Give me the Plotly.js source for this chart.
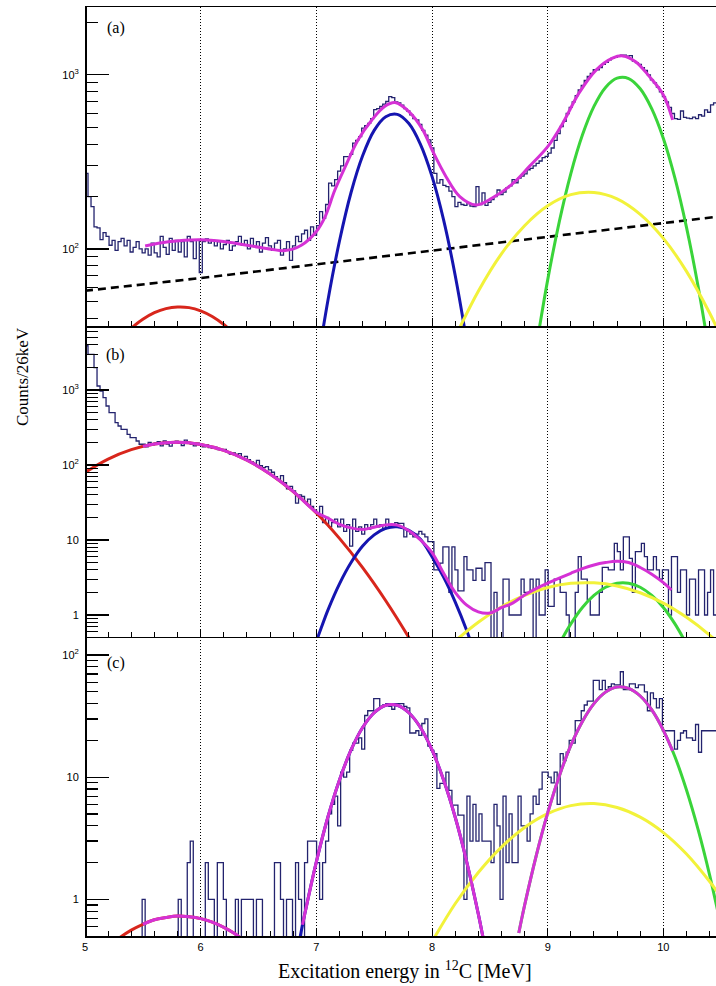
<!DOCTYPE html>
<html>
<head>
<meta charset="utf-8">
<script src="https://cdn.plot.ly/plotly-3.0.1.min.js"></script>
<style>html,body{margin:0;padding:0;background:#fff;overflow:hidden}</style>
</head>
<body>
<div id="chart" style="width:716px;height:986px"></div>
<script>
// ---------------- DATA ----------------
const binStart = 5.0;      // MeV
const binWidth = 0.026;    // MeV (26 keV)

// Panel (a) histogram counts per 26 keV bin
const histA = [
 272,200,175,134,132,113,124,118,105,112,
 98,110,115,104,112,96,102,110,100,95,
 100,92,108,95,90,118,102,93,115,98,
 112,96,110,90,118,110,88,113,73,110,
 114,108,112,104,110,100,106,112,98,104,
 110,118,105,112,100,115,103,110,96,108,
 116,104,98,108,112,92,100,110,86,104,
 118,110,122,128,112,134,120,136,164,150,
 180,239,230,250,280,300,339,339,350,405,
 420,442,494,510,527,560,631,640,658,680,
 703,750,740,700,690,670,640,620,590,560,
 551,520,480,450,423,380,272,239,250,232,
 228,215,200,175,185,180,178,182,176,175,
 228,180,210,178,185,192,200,218,205,212,
 225,230,250,240,255,262,270,285,290,300,
 310,320,335,340,355,380,420,460,505,540,
 600,650,700,760,820,870,930,980,1020,1070,
 1070,1100,1150,1180,1220,1250,1260,1290,1300,1300,
 1280,1290,1200,1175,1150,1100,1060,1000,935,900,
 850,800,750,700,650,600,560,555,620,570,
 565,560,572,560,590,580,630,610,673,690
];
// Panel (b) histogram
const histB = [
 3890,2990,2990,1990,1130,970,790,612,499,499,
 367,331,299,299,256,231,231,209,189,189,
 175,200,185,195,205,180,210,190,178,200,
 208,195,182,215,200,190,180,196,188,175,
 185,170,168,172,160,158,162,150,140,145,
 138,142,125,130,118,110,105,115,98,92,
 95,86,80,70,64,72,58,48,52,45,
 31,40,38,32,35,28,25,23,28,17,
 20,15,17,19,15,19,13,16,8.3,19,
 13,15,12,16,14,16,19,15,16,14,
 19,15,16,17,16.7,16.7,11,13,12,11,
 12,13,12,11,9.5,9.5,4,4,4.9,8.1,
 8.1,2,8.1,4,2.1,2.1,6,4,4,2.9,
 4.2,4.2,2.9,5,5,0,2,0,0,3,
 3,1,1,1,1,3,2,2,3,0,
 3,1,1,4,1.3,1.3,3,3,2,2,
 1,0,0,2,6,3,3,1.6,1,1,
 1,2,4.3,4.3,4,4,9,7,4,11,
 11,5.7,2,7,7,9,6,4,4,6,
 4,3,4,4,1,6,6,2,4,4,
 1,3,3,1,4,4,1,2,4,1
];
// Panel (c) histogram
const histC = [
 0,0,0,0,0,0,0,0,0,0,
 0,0,0,0,0,0,0,0,0,1,
 0,0,0,0,0,0,0,0,0,0,
 0,1,0,0,2,3,0,0,0,0,
 2,1,1,0,2,2,1,0,0,0,
 1,0,1,1,1,1,0,1,1,0,
 0,0,0,2,2,1,0,1,1,0,
 2,1,0,2,3,3,3,2,1,2,
 3,5,6,7,4,11,10,11,16.6,19,
 19,21,17,32,35,35,44,44,38,39,
 40,38,36,40,40,40,38,37,23,23,
 24,22,27.5,30,18,16.6,15.6,8.1,8.9,8.9,
 11,7.8,5.9,5.9,4.9,4.9,1,7,3,6,
 3,5,3,3,3,2,6,4,1,7,
 2,5,2,2,7,4,4,3,5,7,
 6,8,11,11,10,9,11,6,15.6,13.7,
 16,20,19,29,29,35,39,42,42,62,
 62,52,62,52,55,58,57,57,73,52,
 52,58,58,54,57,57,50,35,49,44,
 37,44,24,24,24,24,17,20,23,24,
 21,21,20,27,16,24,24,24,24,24
];

// ---- Fit curves, panel (a) ----
const aBgX = [5.0, 6.0, 7.0, 8.0, 9.0, 10.0, 10.46];
const aBgY = [57.5, 68, 81.5, 98, 118, 141, 153];
const aRedX = [5.3,5.4,5.5,5.6,5.7,5.8,5.9,6.0,6.1,6.2,6.3];
const aRedY = [30.1,35.0,39.4,43.0,45.4,46.4,46.0,44.1,40.9,36.8,32.1];
const aBlueX = [6.95,7.0,7.1,7.2,7.3,7.4,7.5,7.6,7.7,7.8,7.9,8.0,8.1,8.2,8.3,8.4];
const aBlueY = [11.6,19.7,50.6,111,211,343,480,575,593,525,399,261,147,70.6,29.2,10.4];
const aGreenX = [8.9,9.0,9.1,9.2,9.3,9.4,9.5,9.6,9.7,9.8,9.9,10.0,10.1,10.2,10.3,10.4];
const aGreenY = [27,66.4,143,271,451,659,847,957,953,832,638,431,255,133,61,24.6];
const aYellowX = [8.2,8.4,8.6,8.8,9.0,9.2,9.4,9.6,9.8,10.0,10.2,10.4,10.5];
const aYellowY = [31.1,57.1,93.7,136,177,205,211,194,158,115,74.3,42.8,31.1];
const aMagX = [5.52,5.72,6.0,6.21,6.44,6.61,6.73,6.87,7.0,7.075,7.16,7.25,7.36,7.48,7.59,7.68,7.80,7.92,8.0,8.12,8.24,8.38,8.52,8.70,8.84,9.0,9.13,9.27,9.42,9.56,9.65,9.76,9.88,10.0,10.08];
const aMagY = [104,110,113,110,104,99.6,97.8,105,126,153,218,297,423,551,658,693,615,483,371,261,200,179,196,238,297,387,527,785,1069,1248,1285,1191,977,767,551];

// ---- Fit curves, panel (b) ----
const bRedX = [5.0,5.2,5.4,5.6,5.8,6.0,6.2,6.4,6.6,6.8,7.0,7.2,7.4,7.6,7.8,7.9];
const bRedY = [79.5,120,160,191,201,188,157,116,75.9,44.2,22.9,10.5,4.28,1.55,0.50,0.27];
const bBlueX = [6.95,7.0,7.1,7.2,7.3,7.4,7.5,7.6,7.7,7.8,7.9,8.0,8.1,8.2,8.3,8.4];
const bBlueY = [0.3,0.45,1.16,2.6,5.0,8.3,11.7,14.3,15.0,13.4,10.2,6.0,3.2,1.5,0.62,0.22];
const bYellowX = [8.2,8.4,8.6,8.8,9.0,9.2,9.4,9.6,9.8,10.0,10.2,10.4,10.5];
const bYellowY = [0.45,0.80,1.28,1.82,2.32,2.64,2.68,2.44,1.98,1.44,0.93,0.54,0.39];
const bGreenX = [9.1,9.2,9.3,9.4,9.5,9.6,9.7,9.8,9.9,10.0,10.1,10.2];
const bGreenY = [0.41,0.76,1.26,1.82,2.34,2.65,2.65,2.34,1.82,1.26,0.76,0.41];
const bMagX = [5.5,5.6,5.8,6.0,6.2,6.4,6.6,6.8,7.0,7.1,7.2,7.3,7.4,7.5,7.6,7.7,7.8,7.9,8.0,8.1,8.2,8.3,8.4,8.5,8.6,8.7,8.8,8.9,9.0,9.1,9.2,9.3,9.4,9.5,9.6,9.7,9.8,9.9,10.0,10.07];
const bMagY = [177,191,201,188,157,116,76,44.5,23.5,19.5,16.2,14.5,13.8,14.8,15.9,15.8,13.3,10,6.8,3.6,2.0,1.35,1.1,1.06,1.25,1.45,1.85,2.25,2.65,3.1,3.6,4.15,4.65,5.0,5.2,5.0,4.3,3.5,2.7,2.15];

// ---- Fit curves, panel (c) ----
const cRedX = [5.2,5.3,5.4,5.5,5.6,5.7,5.8,5.9,6.0,6.1,6.2,6.3,6.4];
const cRedY = [0.41,0.486,0.56,0.625,0.68,0.71,0.73,0.72,0.695,0.65,0.59,0.52,0.44];
const cBlueX = [6.85,6.9,7.0,7.1,7.2,7.3,7.4,7.5,7.6,7.7,7.8,7.9,8.0,8.1,8.2,8.3,8.4,8.45];
const cBlueY = [0.44,0.76,2.03,4.72,9.5,16.7,25.5,33.7,38.8,38.8,33.7,25.5,16.7,9.5,4.72,2.03,0.76,0.44];
const cGreenX = [8.75,8.8,8.9,9.0,9.1,9.2,9.3,9.4,9.5,9.6,9.7,9.8,9.9,10.0,10.1,10.2,10.3,10.4,10.5];
const cGreenY = [0.53,0.89,2.26,5.1,10.2,18.2,28.6,40.0,49.7,54.7,53.3,46.2,35.5,24.2,14.7,7.85,3.74,1.58,0.59];
const cYellowX = [8.0,8.2,8.4,8.6,8.8,9.0,9.2,9.4,9.6,9.8,10.0,10.2,10.4,10.5];
const cYellowY = [0.45,0.92,1.66,2.68,3.88,5.03,5.85,6.08,5.65,4.71,3.52,2.35,1.40,1.04];
const cMag1X = [5.5,5.6,5.7,5.8,5.9,6.0,6.1,6.2,6.3,6.4];
const cMag1Y = [0.625,0.68,0.71,0.73,0.72,0.695,0.65,0.59,0.52,0.44];
const cMag2X = [6.88,6.9,7.0,7.1,7.2,7.3,7.4,7.5,7.6,7.7,7.8,7.9,8.0,8.1,8.2,8.3,8.4,8.45];
const cMag2Y = [0.62,0.76,2.03,4.72,9.5,16.7,25.5,33.7,38.8,38.8,33.7,25.5,16.7,9.5,4.72,2.03,0.76,0.44];
const cMag3X = [8.75,8.8,8.9,9.0,9.1,9.2,9.3,9.4,9.5,9.6,9.7,9.8,9.9,10.0,10.08];
const cMag3Y = [0.53,0.89,2.26,5.1,10.2,18.2,28.6,40.0,49.7,54.7,53.3,46.2,35.5,24.2,16.4];

const xTickVals = [5,6,7,8,9,10];
const xTickText = ['5','6','7','8','9','10'];
const yTickValsA = [100,1000];
const yTickTextA = ['10<sup>2</sup>','10<sup>3</sup>'];
const yTickValsB = [1,10,100,1000];
const yTickTextB = ['1','10','10<sup>2</sup>','10<sup>3</sup>'];
const yTickValsC = [1,10,100];
const yTickTextC = ['1','10','10<sup>2</sup>'];

// ---------------- STYLE ----------------
const C = {
  hist:'#23236e', red:'#d8261c', blue:'#1515b0', green:'#3ad43a',
  yellow:'#f2f23a', mag:'#d531d5', black:'#000'
};
const nBins = histA.length;
const edges = [];
for (let k = 0; k <= nBins; k++) edges.push(+(binStart + k*binWidth).toFixed(4));

function hist(vals, xa, ya){
  const y = vals.map(v => v > 0 ? v : 1e-3);
  y.push(y[y.length-1]);
  return {type:'scatter', mode:'lines', x: edges, y: y, xaxis:xa, yaxis:ya,
    line:{shape:'hv', color:C.hist, width:1.3}, hoverinfo:'skip', showlegend:false};
}
function curve(xs, ys, color, xa, ya, opts){
  opts = opts || {};
  return {type:'scatter', mode:'lines', x: xs, y: ys, xaxis:xa, yaxis:ya,
    line:{shape: opts.shape || 'spline', smoothing:1, color:color, width: opts.width || 3, dash: opts.dash || 'solid'},
    hoverinfo:'skip', showlegend:false};
}

const traces = [
  hist(histA,'x','y'),
  curve(aBgX, aBgY, C.black, 'x','y', {shape:'linear', width:2.6, dash:'8px,5px'}),
  curve(aRedX, aRedY, C.red, 'x','y'),
  curve(aBlueX, aBlueY, C.blue, 'x','y'),
  curve(aGreenX, aGreenY, C.green, 'x','y'),
  curve(aYellowX, aYellowY, C.yellow, 'x','y'),
  curve(aMagX, aMagY, C.mag, 'x','y'),

  hist(histB,'x2','y2'),
  curve(bRedX, bRedY, C.red, 'x2','y2'),
  curve(bBlueX, bBlueY, C.blue, 'x2','y2'),
  curve(bGreenX, bGreenY, C.green, 'x2','y2'),
  curve(bYellowX, bYellowY, C.yellow, 'x2','y2'),
  curve(bMagX, bMagY, C.mag, 'x2','y2'),

  hist(histC,'x3','y3'),
  curve(cRedX, cRedY, C.red, 'x3','y3'),
  curve(cBlueX, cBlueY, C.blue, 'x3','y3'),
  curve(cGreenX, cGreenY, C.green, 'x3','y3'),
  curve(cYellowX, cYellowY, C.yellow, 'x3','y3'),
  curve(cMag1X, cMag1Y, C.mag, 'x3','y3'),
  curve(cMag2X, cMag2Y, C.mag, 'x3','y3'),
  curve(cMag3X, cMag3Y, C.mag, 'x3','y3')
];

const minorVals = [];
[0.1,1,10,100,1000].forEach(d => { for (let m = 2; m <= 9; m++) minorVals.push(+(d*m).toPrecision(3)); });

const sans = 'Liberation Sans, Arial, sans-serif';
const serif = 'Liberation Serif, Times New Roman, serif';
const xRange = [5, 10.455];

function xaxis(anchor, showLabels, mirror){
  return {
    anchor: anchor, range: xRange, type:'linear', fixedrange:true,
    showline:true, linecolor:'#000', linewidth:1.5, mirror: mirror || false,
    tickmode:'array', tickvals: xTickVals, ticktext: xTickText,
    ticks:'inside', ticklen:8, tickwidth:1, tickcolor:'#000',
    showticklabels: showLabels, tickfont:{family:sans, size:11, color:'#000'},
    showgrid:true, gridcolor:'#000', gridwidth:1, griddash:'1px,2px',
    minor:{dtick:0.2, tick0:5, ticks:'inside', ticklen:5, tickwidth:1, tickcolor:'#000', showgrid:false},
    zeroline:false
  };
}
function yaxis(domain, range, tv, tt){
  return {
    domain: domain, type:'log', range: range, fixedrange:true, anchor:'free', position:0,
    showline:true, linecolor:'#000', linewidth:1.5,
    tickmode:'array', tickvals: tv, ticktext: tt,
    ticks:'inside', ticklen:22, tickwidth:1.2, tickcolor:'#000',
    ticklabelstandoff: 4,
    tickfont:{family:sans, size:11, color:'#000'},
    minor:{tickmode:'array', tickvals: minorVals, ticks:'inside', ticklen:11, tickwidth:1.2, tickcolor:'#000', showgrid:false},
    showgrid:false, zeroline:false
  };
}

const layout = {
  width:716, height:986,
  margin:{l:85, r:0, t:7, b:50},
  paper_bgcolor:'#fff', plot_bgcolor:'#fff',
  showlegend:false,
  xaxis: xaxis('y', false, true),
  xaxis2: xaxis('y2', false),
  xaxis3: xaxis('y3', true),
  yaxis: yaxis([0.6566, 1], [1.557, 3.39], yTickValsA, yTickTextA),
  yaxis2: yaxis([0.3219, 0.6566], [-0.293, 3.853], yTickValsB, yTickTextB),
  yaxis3: yaxis([0, 0.3219], [-0.30, 2.148], yTickValsC, yTickTextC),
  annotations:[
    {text:'(a)', xref:'paper', yref:'paper', x:0.049, y:0.9774, showarrow:false, xanchor:'center', yanchor:'middle', font:{family:serif, size:16, color:'#000'}},
    {text:'(b)', xref:'paper', yref:'paper', x:0.049, y:0.6254, showarrow:false, xanchor:'center', yanchor:'middle', font:{family:serif, size:16, color:'#000'}},
    {text:'(c)', xref:'paper', yref:'paper', x:0.049, y:0.2939, showarrow:false, xanchor:'center', yanchor:'middle', font:{family:serif, size:16, color:'#000'}},
    {text:'Counts/26keV', xref:'paper', yref:'paper', x:-0.0998, y:0.6017, textangle:-90, showarrow:false, xanchor:'center', yanchor:'middle', font:{family:serif, size:17, color:'#000'}},
    {text:'Excitation energy in <sup>12</sup>C [MeV]', xref:'paper', yref:'paper', x:0.507, y:-0.0366, showarrow:false, xanchor:'center', yanchor:'middle', font:{family:serif, size:20, color:'#000'}}
  ]
};

Plotly.newPlot('chart', traces, layout, {staticPlot:true, displayModeBar:false});
</script>
</body>
</html>
